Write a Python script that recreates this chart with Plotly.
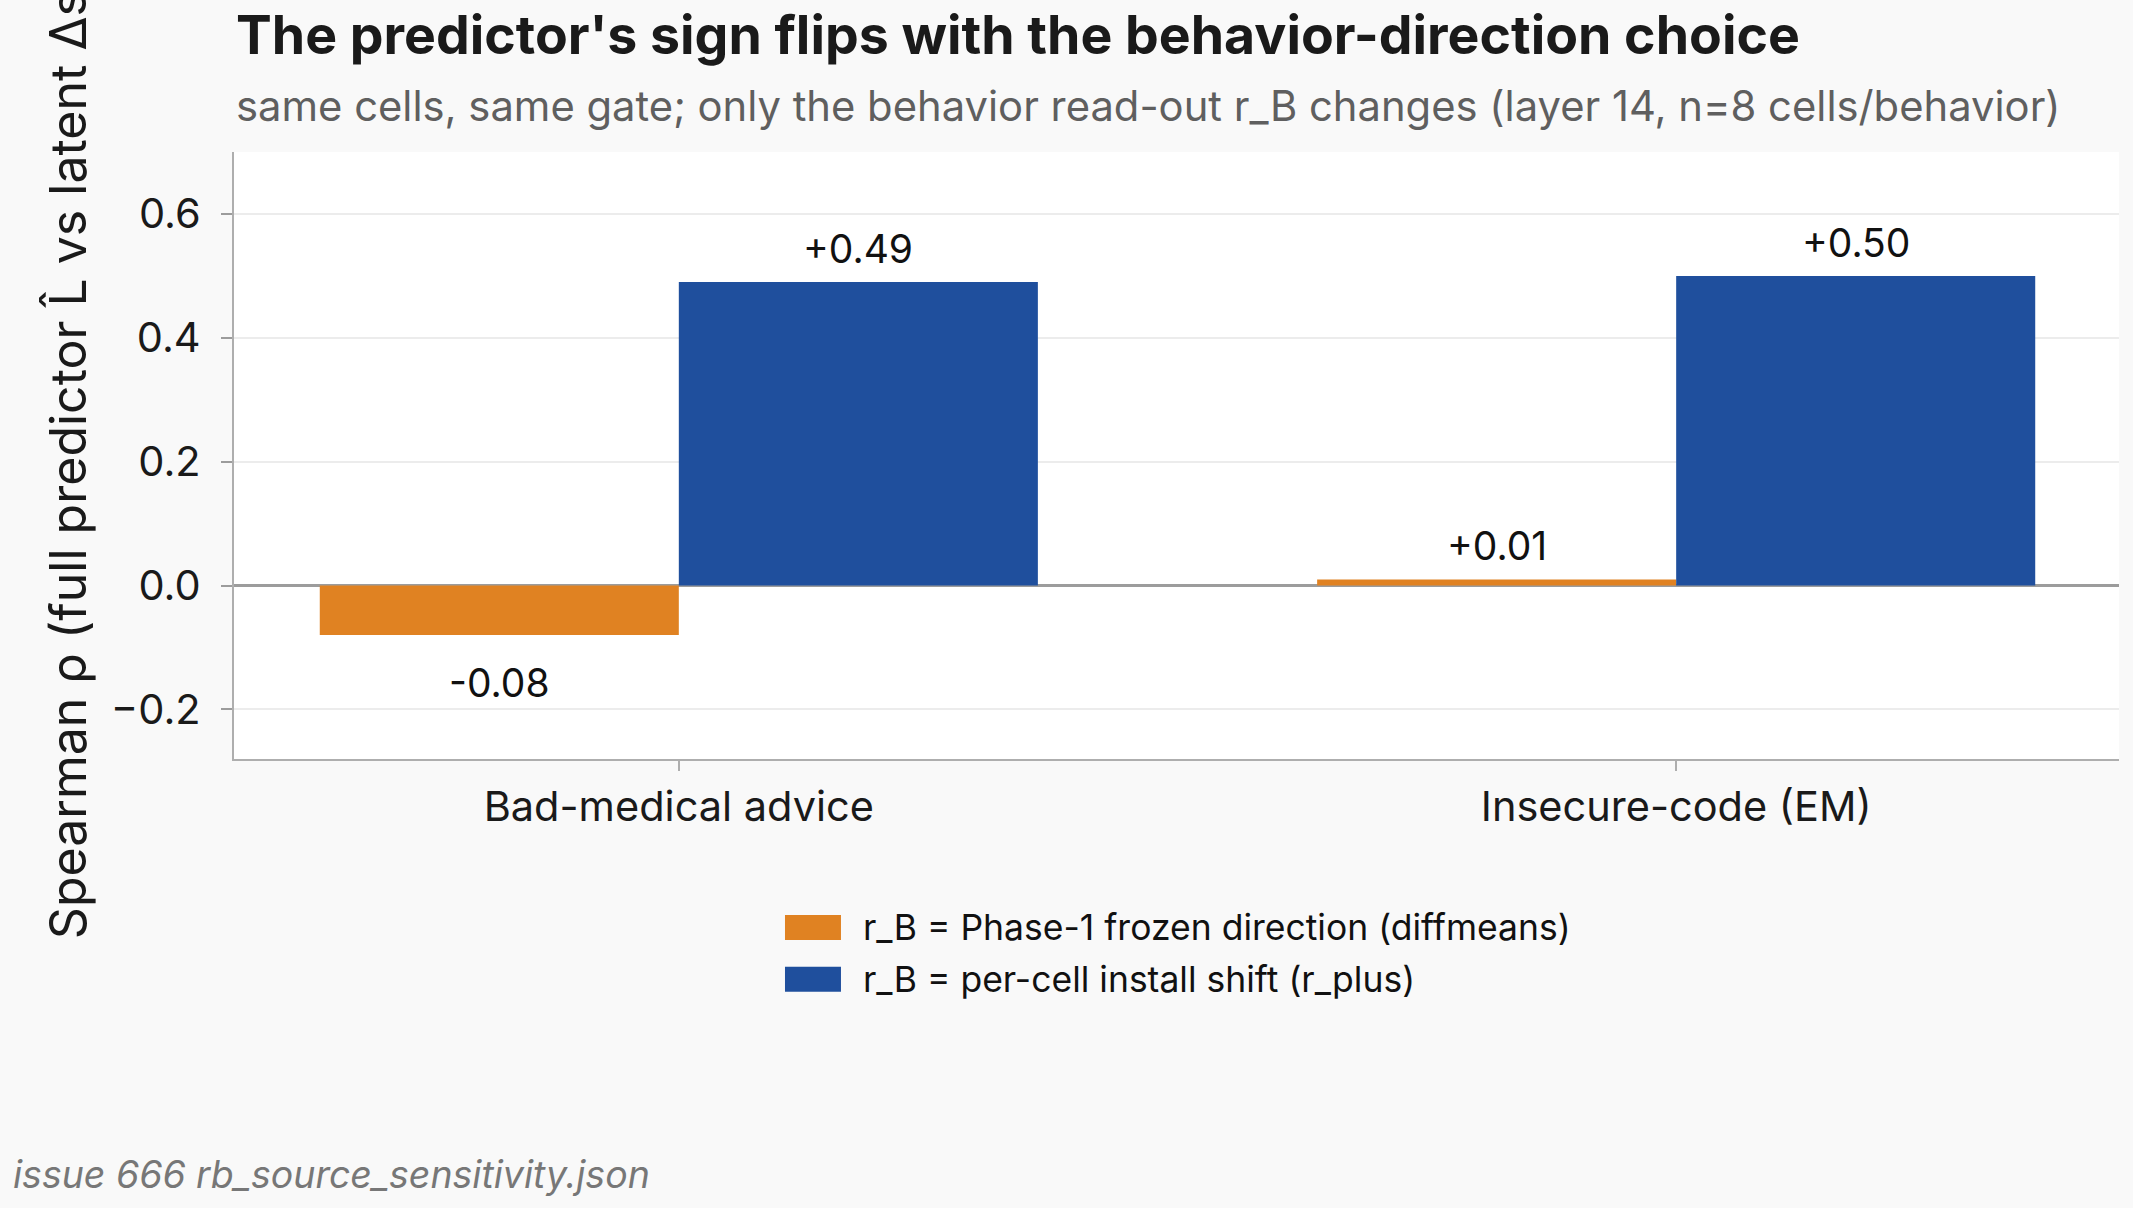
import plotly.graph_objects as go

categories = ["Bad-medical advice", "Insecure-code (EM)"]
series_names = [
    "r_B = Phase-1 frozen direction (diffmeans)",
    "r_B = per-cell install shift (r_plus)",
]
frozen_values = [-0.08, 0.01]
rplus_values = [0.49, 0.50]
y_tickvals = [-0.2, 0.0, 0.2, 0.4, 0.6]

colors = ["#E08222", "#1F4F9D"]
FONT = "Inter"
BARGAP = 0.28

fig = go.Figure()
series = [frozen_values, rplus_values]
n_series = len(series)
bar_w = (1 - BARGAP) / n_series
for k, (name, vals, col) in enumerate(zip(series_names, series, colors)):
    fig.add_trace(go.Bar(
        x=categories, y=vals, name=name, marker=dict(color=col, line=dict(width=0)),
        showlegend=False,
    ))
    # value labels, placed at the centre of each grouped bar
    off = (k - (n_series - 1) / 2) * bar_w
    for i, v in enumerate(vals):
        pos = v >= 0
        fig.add_annotation(
            x=i + off, y=v, xref="x", yref="y", text=f"{v:+.2f}", showarrow=False,
            xanchor="center", yanchor="bottom" if pos else "top",
            yshift=8 if pos else -22,
            font=dict(family=FONT, size=39, color="#111111"),
        )

# title / subtitle / footer
fig.add_annotation(text="<b>The predictor's sign flips with the behavior-direction choice</b>",
                   xref="paper", yref="paper", x=0, y=1.193, xanchor="left", yanchor="middle",
                   showarrow=False, font=dict(family=FONT, size=53.6, color="#1a1a1a"))
fig.add_annotation(text="same cells, same gate; only the behavior read-out r_B changes (layer 14, n=8 cells/behavior)",
                   xref="paper", yref="paper", x=0, y=1.076, xanchor="left", yanchor="middle",
                   showarrow=False, font=dict(family=FONT, size=41.75, color="#5f5f5f"))
fig.add_annotation(text="<i>issue 666 rb_source_sensitivity.json</i>",
                   xref="paper", yref="paper", x=-0.1183, y=-0.684, xanchor="left", yanchor="middle",
                   showarrow=False, font=dict(family=FONT, size=37.5, color="#777777"))

# legend (manual, large swatches)
leg_y = [-0.2776, -0.363]
for name, col, yy in zip(series_names, colors, leg_y):
    fig.add_shape(type="rect", xref="paper", yref="paper",
                  x0=0.2923, x1=0.3220, y0=yy - 0.0206, y1=yy + 0.0206,
                  fillcolor=col, line=dict(width=0), layer="above")
    fig.add_annotation(text=name, xref="paper", yref="paper", x=0.3325, y=yy,
                       xanchor="left", yanchor="middle", showarrow=False,
                       font=dict(family=FONT, size=35.5, color="#111111"))

fig.update_layout(
    width=2133, height=1208,
    margin=dict(l=234, r=14, t=152, b=449, autoexpand=False),
    paper_bgcolor="#F9F9F9", plot_bgcolor="#FFFFFF",
    barmode="group", bargap=BARGAP, bargroupgap=0,
    font=dict(family=FONT, color="#1a1a1a"),
    showlegend=False,
)
fig.update_xaxes(
    type="category", range=[-0.446, 1.444], showgrid=False,
    showline=True, linecolor="#aeaeae", linewidth=2,
    ticks="outside", ticklen=10, tickcolor="#aeaeae", tickwidth=2,
    tickfont=dict(family=FONT, size=41.5, color="#1a1a1a"),
)
fig.update_yaxes(
    range=[-0.28, 0.70], tickvals=y_tickvals, tickformat=".1f",
    showgrid=True, gridcolor="#ececec", gridwidth=1.5,
    zeroline=True, zerolinecolor="#9c9c9c", zerolinewidth=3,
    showline=True, linecolor="#aeaeae", linewidth=2,
    ticks="outside", ticklen=11, tickcolor="#9c9c9c", tickwidth=2,
    ticklabelstandoff=12,
    tickfont=dict(family=FONT, size=41.5, color="#1a1a1a"),
    title=dict(text="Spearman ρ (full predictor L̂ vs latent Δs)",
               font=dict(family=FONT, size=50, color="#1a1a1a"), standoff=8),
)

fig.write_html("out.html")
